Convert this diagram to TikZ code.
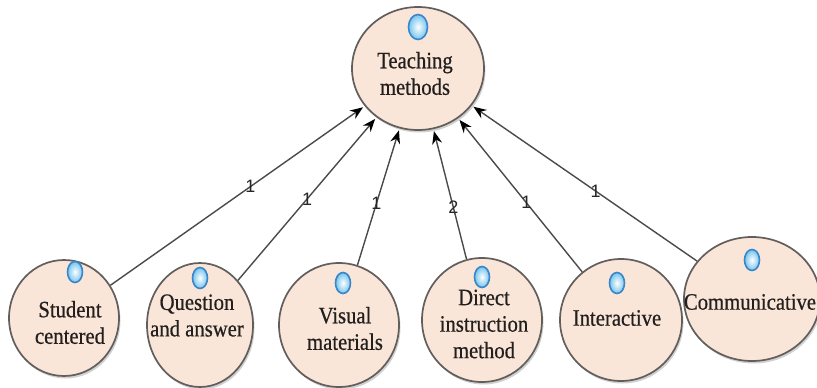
\documentclass[tikz,border=0pt]{standalone}
\usepackage{fontspec}
\setmainfont{Liberation Serif}[FakeStretch=0.88,FakeBold=0.6]
\newfontfamily\lblfont{Liberation Sans}
\usetikzlibrary{shapes.geometric,arrows.meta,shadows}
\definecolor{nodefill}{HTML}{FAE6D8}
\definecolor{nodeline}{HTML}{625E5C}
\definecolor{edgeline}{HTML}{4A4A4A}
\definecolor{orbline}{HTML}{3A86C8}
\definecolor{orbfill}{HTML}{74C4EE}
\definecolor{txt}{HTML}{221F1E}
\tikzset{
  bubble/.style={ellipse, draw=nodeline, line width=1.7pt, fill=nodefill, inner sep=0pt,
    drop shadow={shadow xshift=1.5pt, shadow yshift=-2.5pt, opacity=0.18, fill=black}},
  orb/.style={ellipse, draw=orbline, line width=1.6pt, inner color=white, outer color=orbfill, inner sep=0pt},
  caption/.style={align=center, text=txt, font=\fontsize{23.5}{26.5}\selectfont, inner sep=0pt},
  edge/.style={draw=edgeline, line width=1.4pt, -{Stealth[length=13pt,width=10pt,black]}, shorten >=2pt},
  lbl/.style={font=\lblfont\fontsize{18}{18}\selectfont, text=black!85, inner sep=0pt}
}
\begin{document}
\begin{tikzpicture}[x=1pt,y=-1pt]
\useasboundingbox (0,0) rectangle (817,388);
% nodes
\node[bubble, minimum width=132pt, minimum height=123pt] (T) at (418,68.5) {};
\node[bubble, minimum width=110pt, minimum height=116pt] (S) at (64,318) {};
\node[bubble, minimum width=106pt, minimum height=124pt] (Q) at (200,325) {};
\node[bubble, minimum width=120pt, minimum height=124pt] (V) at (339,325) {};
\node[bubble, minimum width=120pt, minimum height=124pt] (D) at (482,320) {};
\node[bubble, minimum width=122pt, minimum height=122pt] (I) at (621,320) {};
\node[bubble, minimum width=136pt, minimum height=124pt] (C) at (752,299) {};
% orbs
\node[orb, minimum width=19pt, minimum height=25pt] (To) at (418,27) {};
\node[orb, minimum width=15pt, minimum height=21pt] (So) at (75,272) {};
\node[orb, minimum width=15pt, minimum height=21pt] (Qo) at (200,278) {};
\node[orb, minimum width=15pt, minimum height=21pt] (Vo) at (343,283) {};
\node[orb, minimum width=15pt, minimum height=21pt] (Do) at (482,277) {};
\node[orb, minimum width=15pt, minimum height=21pt] (Io) at (617,283) {};
\node[orb, minimum width=15pt, minimum height=21pt] (Co) at (752,260) {};
% captions
\node[caption] (Tt) at (415,73.5) {Teaching\\methods};
\node[caption] (St) at (70,322.5) {Student\\centered};
\node[caption] (Qt) at (197,315.5) {Question\\and answer};
\node[caption] (Vt) at (345,328.5) {Visual\\materials};
\node[caption] (Dt) at (484,324) {Direct\\instruction\\method};
\node[caption] (It) at (617,318) {Interactive};
\node[caption] (Ct) at (750,302) {Communicative};
% edges
\draw[edge] (S) -- node[lbl, pos=0.55] (l1) {1} (T);
\draw[edge] (Q) -- node[lbl, pos=0.5] (l2) {1} (T);
\draw[edge] (V) -- node[lbl, pos=0.45] (l3) {1} (T);
\draw[edge] (D) -- node[lbl, pos=0.4] (l4) {2} (T);
\draw[edge] (I) -- node[lbl, pos=0.45] (l5) {1} (T);
\draw[edge] (C) -- node[lbl, pos=0.45] (l6) {1} (T);
\end{tikzpicture}
\end{document}
